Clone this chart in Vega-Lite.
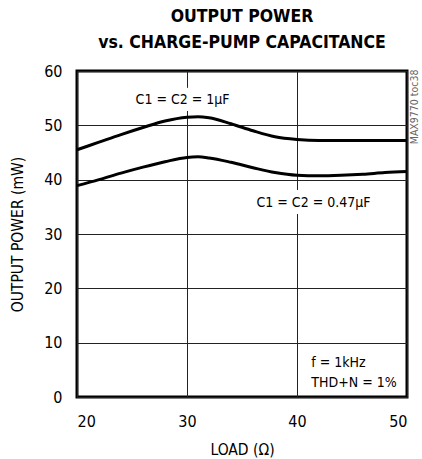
{
  "$schema": "https://vega.github.io/schema/vega-lite/v6.json",
  "width": 330,
  "height": 326,
  "autosize": "none",
  "padding": {"left": 77, "top": 71, "right": 15, "bottom": 62},
  "background": "white",
  "config": {
    "font": "DejaVu Sans Condensed, sans-serif",
    "view": {"stroke": "black", "strokeWidth": 3},
    "axis": {
      "grid": true,
      "gridColor": "#222",
      "gridWidth": 1,
      "gridOpacity": 1,
      "ticks": false,
      "domain": false,
      "labelColor": "black",
      "labelFontSize": 16,
      "labelFont": "DejaVu Sans Condensed, sans-serif",
      "titleColor": "black",
      "titleFontSize": 15.5,
      "titleFontWeight": "normal",
      "titleFont": "DejaVu Sans Condensed, sans-serif"
    }
  },
  "title": {
    "text": ["OUTPUT POWER", "vs. CHARGE-PUMP CAPACITANCE"],
    "fontSize": 17.5,
    "fontWeight": "bold",
    "font": "DejaVu Sans Condensed, sans-serif",
    "color": "black",
    "anchor": "middle",
    "lineHeight": 26,
    "offset": 12
  },
  "datasets": {
    "curves": [
      {"load": 20, "power": 45.5, "cap": "1uF"},
      {"load": 22, "power": 46.9, "cap": "1uF"},
      {"load": 24, "power": 48.3, "cap": "1uF"},
      {"load": 26, "power": 49.6, "cap": "1uF"},
      {"load": 28, "power": 50.8, "cap": "1uF"},
      {"load": 30, "power": 51.5, "cap": "1uF"},
      {"load": 31, "power": 51.6, "cap": "1uF"},
      {"load": 32, "power": 51.4, "cap": "1uF"},
      {"load": 34, "power": 50.3, "cap": "1uF"},
      {"load": 36, "power": 49.0, "cap": "1uF"},
      {"load": 38, "power": 47.9, "cap": "1uF"},
      {"load": 40, "power": 47.4, "cap": "1uF"},
      {"load": 42, "power": 47.2, "cap": "1uF"},
      {"load": 44, "power": 47.2, "cap": "1uF"},
      {"load": 46, "power": 47.2, "cap": "1uF"},
      {"load": 48, "power": 47.2, "cap": "1uF"},
      {"load": 50, "power": 47.2, "cap": "1uF"},
      {"load": 20, "power": 38.9, "cap": "0.47uF"},
      {"load": 22, "power": 40.0, "cap": "0.47uF"},
      {"load": 24, "power": 41.2, "cap": "0.47uF"},
      {"load": 26, "power": 42.3, "cap": "0.47uF"},
      {"load": 28, "power": 43.3, "cap": "0.47uF"},
      {"load": 30, "power": 44.1, "cap": "0.47uF"},
      {"load": 31, "power": 44.2, "cap": "0.47uF"},
      {"load": 32, "power": 44.0, "cap": "0.47uF"},
      {"load": 34, "power": 43.2, "cap": "0.47uF"},
      {"load": 36, "power": 42.2, "cap": "0.47uF"},
      {"load": 38, "power": 41.3, "cap": "0.47uF"},
      {"load": 40, "power": 40.8, "cap": "0.47uF"},
      {"load": 42, "power": 40.7, "cap": "0.47uF"},
      {"load": 44, "power": 40.8, "cap": "0.47uF"},
      {"load": 46, "power": 41.0, "cap": "0.47uF"},
      {"load": 48, "power": 41.3, "cap": "0.47uF"},
      {"load": 50, "power": 41.5, "cap": "0.47uF"}
    ],
    "curveLabels": [
      {"load": 29.6, "power": 54.7, "label": "C1 = C2 = 1µF"},
      {"load": 41.5, "power": 35.7, "label": "C1 = C2 = 0.47µF"}
    ],
    "conditions": [
      {"load": 41.3, "power": 6.3, "label": "f = 1kHz"},
      {"load": 41.3, "power": 2.6, "label": "THD+N = 1%"}
    ],
    "tag": [
      {"load": 50.75, "power": 53.4, "label": "MAX9770 toc38"}
    ]
  },
  "encoding": {
    "x": {
      "field": "load",
      "type": "quantitative",
      "scale": {"domain": [20, 50], "nice": false, "zero": false},
      "axis": {"values": [20, 30, 40, 50], "title": "LOAD (Ω)", "labelPadding": 16, "titlePadding": 13}
    },
    "y": {
      "field": "power",
      "type": "quantitative",
      "scale": {"domain": [0, 60], "nice": false},
      "axis": {"values": [0, 10, 20, 30, 40, 50, 60], "title": "OUTPUT POWER (mW)", "labelPadding": 15, "titlePadding": 18}
    }
  },
  "layer": [
    {
      "data": {"name": "curves"},
      "mark": {"type": "line", "color": "black", "strokeWidth": 3, "interpolate": "monotone"},
      "encoding": {"detail": {"field": "cap"}}
    },
    {
      "data": {"name": "curveLabels"},
      "mark": {"type": "text", "fontSize": 14, "stroke": "white", "strokeWidth": 14, "strokeJoin": "round", "fill": "white", "align": "center", "baseline": "middle"},
      "encoding": {"text": {"field": "label"}}
    },
    {
      "data": {"name": "curveLabels"},
      "mark": {"type": "text", "fontSize": 14, "color": "black", "align": "center", "baseline": "middle"},
      "encoding": {"text": {"field": "label"}}
    },
    {
      "data": {"name": "conditions"},
      "mark": {"type": "text", "fontSize": 14, "color": "black", "align": "left", "baseline": "middle"},
      "encoding": {"text": {"field": "label"}}
    },
    {
      "data": {"name": "tag"},
      "mark": {"type": "text", "fontSize": 10.5, "color": "#666", "align": "center", "baseline": "middle", "angle": 270},
      "encoding": {"text": {"field": "label"}}
    }
  ]
}
